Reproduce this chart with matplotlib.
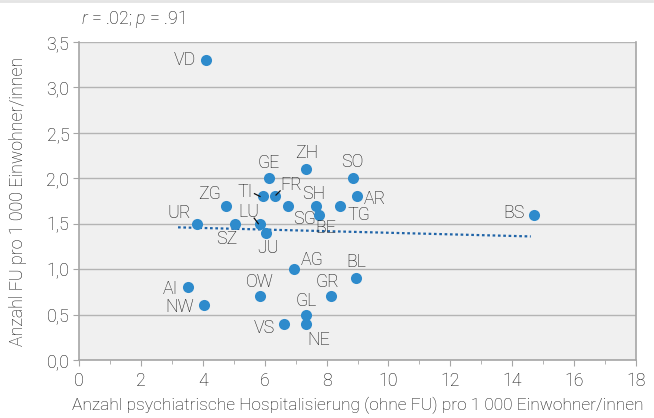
import matplotlib
matplotlib.use("Agg")
import matplotlib.pyplot as plt
from matplotlib.ticker import MultipleLocator, FuncFormatter
from matplotlib.transforms import offset_copy
from matplotlib.lines import Line2D
import numpy as np

plt.rcParams['font.family'] = ['Roboto', 'DejaVu Sans']
plt.rcParams['font.weight'] = 'light'
plt.rcParams['axes.labelweight'] = 'light'
plt.rcParams['mathtext.fontset'] = 'custom'
plt.rcParams['mathtext.it'] = 'Roboto:italic:light'
plt.rcParams['mathtext.rm'] = 'Roboto:light'

cantons = ['VD', 'GE', 'ZH', 'SO', 'AR', 'TI', 'FR', 'ZG', 'SG', 'SH', 'BE', 'TG', 'UR',
           'SZ', 'LU', 'JU', 'BS', 'AG', 'BL', 'GR', 'OW', 'AI', 'NW', 'GL', 'VS', 'NE']
hosp = [4.1, 6.13, 7.35, 8.84, 8.97, 5.94, 6.32, 4.74, 6.74, 7.65, 7.74, 8.45, 3.81,
        5.03, 5.84, 6.03, 14.7, 6.94, 8.94, 8.13, 5.84, 3.52, 4.03, 7.35, 6.61, 7.35]
fu = [3.3, 2.0, 2.1, 2.0, 1.8, 1.8, 1.8, 1.7, 1.7, 1.7, 1.6, 1.7, 1.5,
      1.5, 1.5, 1.4, 1.6, 1.0, 0.9, 0.7, 0.7, 0.8, 0.6, 0.5, 0.4, 0.4]
trend_x = [3.2, 14.6]
trend_y = [1.46, 1.36]
xlabel = 'Anzahl psychiatrische Hospitalisierung (ohne FU) pro 1 000 Einwohner/innen'
ylabel = 'Anzahl FU pro 1 000 Einwohner/innen'

FS = 12.8
TXT = '#111111'

# label offsets in points (dx, dy, ha, va)
offs = {
    'VD': (-7.5, 0, 'right', 'center'), 'GE': (0, 11, 'center', 'center'),
    'ZH': (0, 11.5, 'center', 'center'), 'SO': (0, 11.5, 'center', 'center'),
    'AR': (5, -1.5, 'left', 'center'), 'TI': (-7, 3.5, 'right', 'center'),
    'FR': (4, 8, 'left', 'center'), 'ZG': (-11.5, 8, 'center', 'center'),
    'SG': (12, -10, 'center', 'center'), 'SH': (-1.5, 8.5, 'center', 'center'),
    'BE': (5, -9.5, 'center', 'center'), 'TG': (13, -7, 'center', 'center'),
    'UR': (-13, 8, 'center', 'center'), 'SZ': (-6, -11, 'center', 'center'),
    'LU': (-8, 8.5, 'center', 'center'), 'JU': (1.5, -11, 'center', 'center'),
    'BS': (-6.5, 1, 'right', 'center'), 'AG': (5, 6.5, 'left', 'center'),
    'BL': (0.5, 12, 'center', 'center'), 'GR': (-2, 10, 'center', 'center'),
    'OW': (0, 10, 'center', 'center'), 'AI': (-7.5, -1, 'right', 'center'),
    'NW': (-7, -1, 'right', 'center'), 'GL': (0, 10, 'center', 'center'),
    'VS': (-6.5, -3, 'right', 'center'), 'NE': (8.5, -11.5, 'center', 'center'),
}
leader_segs = {'TI': ((-6, 2), (-2, 0)), 'FR': ((4, 4), (1, 1)), 'LU': ((-4, 4), (-1, 0))}

fig = plt.figure(figsize=(6.54, 4.18), dpi=100)
ax = fig.add_axes([0.1208, 0.1388, 0.8517, 0.7607])
ax.set_facecolor('#f0f0f0')

ax.set_xlim(0, 18)
ax.set_ylim(0, 3.5)
ax.xaxis.set_major_locator(MultipleLocator(2))
ax.xaxis.set_minor_locator(MultipleLocator(1))
ax.yaxis.set_major_locator(MultipleLocator(0.5))
ax.yaxis.set_major_formatter(FuncFormatter(lambda v, p: f'{v:.1f}'.replace('.', ',')))
ax.grid(axis='y', color='#b4b4b4', lw=1)
ax.set_axisbelow(True)
for s in ['left', 'bottom', 'right']:
    ax.spines[s].set_color('#a6a6a6')
    ax.spines[s].set_linewidth(1.2)
ax.spines['top'].set_visible(False)
ax.tick_params(axis='both', which='both', color='#a6a6a6', direction='out', labelsize=FS,
               labelcolor=TXT)
ax.tick_params(axis='x', which='major', length=4, pad=5)
ax.tick_params(axis='x', which='minor', length=3)
ax.tick_params(axis='y', length=4, pad=3)

ax.plot(trend_x, trend_y, ls=(0, (1.2, 1.2)), color='#1f64a8', lw=1.6, zorder=2)

ax.scatter(hosp, fu, s=64, color='#2e8bcc', zorder=3, linewidths=0)

for c, x, y in zip(cantons, hosp, fu):
    dx, dy, ha, va = offs[c]
    ax.annotate(c, (x, y), xytext=(dx, dy), textcoords='offset points', ha=ha, va=va,
                fontsize=FS, color=TXT, zorder=4)

for c, seg in leader_segs.items():
    i = cantons.index(c)
    x, y = hosp[i], fu[i]
    tr0 = offset_copy(ax.transData, fig=fig, x=seg[0][0], y=seg[0][1], units='points')
    tr1 = offset_copy(ax.transData, fig=fig, x=seg[1][0], y=seg[1][1], units='points')
    p0 = tr0.transform((x, y)); p1 = tr1.transform((x, y))
    ax.plot([p0[0], p1[0]], [p0[1], p1[1]], transform=None, color=TXT, lw=0.9, zorder=4)

ax.set_xlabel(xlabel, fontsize=12.5, color=TXT)
ax.xaxis.set_label_coords(0.5, -0.117)
ax.set_ylabel(ylabel, fontsize=FS, color=TXT)
ax.yaxis.set_label_coords(-0.093, 0.5)
fig.text(0.124, 0.955, r'$\it{r}$ = .02; $\it{p}$ = .91', fontsize=FS, color=TXT,
         ha='left', va='center')

fig.add_artist(Line2D([0, 0.997], [0.998, 0.998], transform=fig.transFigure,
                      color='#e4e4e4', lw=2))

fig.savefig('out.png', dpi=100, facecolor='white')
